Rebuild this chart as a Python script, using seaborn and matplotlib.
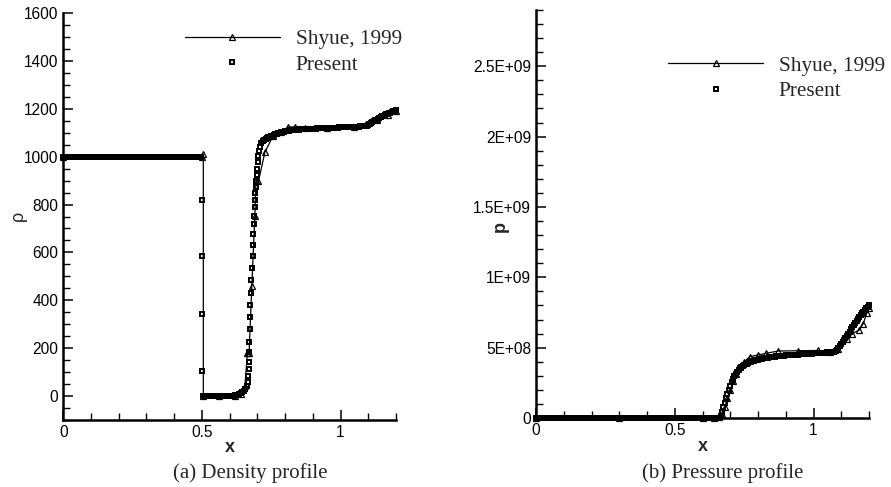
import numpy as np
import pandas as pd
import matplotlib
matplotlib.use("Agg")
import matplotlib.pyplot as plt
import seaborn as sns
from matplotlib.ticker import MultipleLocator, FixedLocator, FixedFormatter

# ---------------- data ----------------
# (a) density, "Present" (square markers)
rho_present_x = [
    0.000, 0.005, 0.010, 0.015, 0.020, 0.025, 0.030, 0.035, 0.040, 0.045,
    0.050, 0.055, 0.060, 0.065, 0.070, 0.075, 0.080, 0.085, 0.090, 0.095,
    0.100, 0.105, 0.110, 0.115, 0.120, 0.125, 0.130, 0.135, 0.140, 0.145,
    0.150, 0.155, 0.160, 0.165, 0.170, 0.175, 0.180, 0.185, 0.190, 0.195,
    0.200, 0.205, 0.210, 0.215, 0.220, 0.225, 0.230, 0.235, 0.240, 0.245,
    0.250, 0.255, 0.260, 0.265, 0.270, 0.275, 0.280, 0.285, 0.290, 0.295,
    0.300, 0.305, 0.310, 0.315, 0.320, 0.325, 0.330, 0.335, 0.340, 0.345,
    0.350, 0.355, 0.360, 0.365, 0.370, 0.375, 0.380, 0.385, 0.390, 0.395,
    0.400, 0.405, 0.410, 0.415, 0.420, 0.425, 0.430, 0.435, 0.440, 0.445,
    0.450, 0.455, 0.460, 0.465, 0.470, 0.475, 0.480, 0.485, 0.490, 0.495,
    0.499, 0.4995, 0.500, 0.5005,
    0.505, 0.510, 0.515, 0.520, 0.525, 0.530, 0.535, 0.540, 0.545, 0.550,
    0.555, 0.560, 0.565, 0.570, 0.575, 0.580, 0.585, 0.590, 0.595, 0.600,
    0.605, 0.610, 0.615, 0.620, 0.625, 0.630, 0.635, 0.640, 0.645, 0.650, 0.655,
    0.661, 0.6645, 0.6667, 0.668, 0.669, 0.6695, 0.670, 0.672, 0.674, 0.675,
    0.676, 0.678, 0.680, 0.6825, 0.685, 0.686, 0.687, 0.689, 0.691, 0.692,
    0.693, 0.694, 0.695, 0.697, 0.699, 0.701, 0.704, 0.707, 0.710, 0.714,
    0.720, 0.725, 0.730, 0.735, 0.740, 0.745, 0.750, 0.755, 0.760, 0.765,
    0.770, 0.775, 0.780, 0.785, 0.790, 0.795, 0.800, 0.805, 0.810, 0.815,
    0.820, 0.825, 0.830, 0.835, 0.840, 0.845, 0.850, 0.855, 0.860, 0.865,
    0.870, 0.875, 0.880, 0.885, 0.890, 0.895, 0.900, 0.905, 0.910, 0.915,
    0.920, 0.925, 0.930, 0.935, 0.940, 0.945, 0.950, 0.955, 0.960, 0.965,
    0.970, 0.975, 0.980, 0.985, 0.990, 0.995, 1.000, 1.005, 1.010, 1.015,
    1.020, 1.025, 1.030, 1.035, 1.040, 1.045, 1.050, 1.055, 1.060, 1.065,
    1.070, 1.075, 1.080, 1.085, 1.090, 1.095, 1.100, 1.105, 1.110, 1.115,
    1.120, 1.125, 1.130, 1.135, 1.140, 1.145, 1.150, 1.155, 1.160, 1.165,
    1.170, 1.175, 1.180, 1.185, 1.190, 1.195, 1.200,
]
rho_present = [
    1000, 1000, 1000, 1000, 1000, 1000, 1000, 1000, 1000, 1000,
    1000, 1000, 1000, 1000, 1000, 1000, 1000, 1000, 1000, 1000,
    1000, 1000, 1000, 1000, 1000, 1000, 1000, 1000, 1000, 1000,
    1000, 1000, 1000, 1000, 1000, 1000, 1000, 1000, 1000, 1000,
    1000, 1000, 1000, 1000, 1000, 1000, 1000, 1000, 1000, 1000,
    1000, 1000, 1000, 1000, 1000, 1000, 1000, 1000, 1000, 1000,
    1000, 1000, 1000, 1000, 1000, 1000, 1000, 1000, 1000, 1000,
    1000, 1000, 1000, 1000, 1000, 1000, 1000, 1000, 1000, 1000,
    1000, 1000, 1000, 1000, 1000, 1000, 1000, 1000, 1000, 1000,
    1000, 1000, 1000, 1000, 1000, 1000, 1000, 1000, 1000, 1000,
    820, 583, 344, 106,
    0, 0, 0, 0, 0, 0, 0, 0, 0, 0,
    0, 0, 0, 0, 0, 0, 0, 0, 0, 0,
    1, 1, 2, 3, 4, 6, 8, 11, 15, 21, 30,
    42, 60, 84, 112, 141, 183, 226, 279, 329, 381,
    432, 483, 534, 583, 632, 678, 720, 754, 788, 817,
    848, 873, 897, 922, 950, 977, 1003, 1025, 1042, 1055,
    1064, 1069, 1073, 1077, 1080, 1083, 1086, 1088, 1090, 1093,
    1095, 1097, 1099, 1101, 1103, 1105, 1106, 1107, 1108, 1109,
    1110, 1111, 1111, 1112, 1112, 1113, 1113, 1114, 1114, 1115,
    1115, 1115, 1116, 1116, 1116, 1117, 1117, 1117, 1117, 1118,
    1118, 1118, 1118, 1119, 1119, 1119, 1119, 1120, 1120, 1120,
    1120, 1121, 1121, 1121, 1121, 1122, 1122, 1122, 1122, 1123,
    1123, 1123, 1123, 1124, 1124, 1124, 1124, 1125, 1125, 1125,
    1126, 1126, 1127, 1127, 1128, 1130, 1133, 1137, 1140, 1144,
    1148, 1151, 1155, 1158, 1162, 1165, 1168, 1171, 1174, 1177,
    1179, 1182, 1184, 1187, 1189, 1191, 1193,
]

# (a) density, "Shyue, 1999" (line with triangles)
rho_shyue_x = [
    0.00, 0.50,
    0.505, 0.505, 0.56, 0.62, 0.64, 0.655,
    0.664, 0.667, 0.670, 0.680, 0.691, 0.695, 0.704, 0.727,
    0.757, 0.785, 0.811, 0.837, 0.87, 0.95, 1.05,
    1.093, 1.13, 1.17, 1.20,
]
rho_shyue = [
    1000, 1000,
    1010, 0, 0, 2, 10, 40,
    180, 180, 180, 460, 753, 904, 898, 1018,
    1088, 1105, 1123, 1125, 1118, 1120, 1124,
    1138, 1155, 1175, 1192,
]

# (b) pressure, "Present" (units of 1E+09)
p_present_x = [
    0.000, 0.005, 0.010, 0.015, 0.020, 0.025, 0.030, 0.035, 0.040, 0.045,
    0.050, 0.055, 0.060, 0.065, 0.070, 0.075, 0.080, 0.085, 0.090, 0.095,
    0.100, 0.105, 0.110, 0.115, 0.120, 0.125, 0.130, 0.135, 0.140, 0.145,
    0.150, 0.155, 0.160, 0.165, 0.170, 0.175, 0.180, 0.185, 0.190, 0.195,
    0.200, 0.205, 0.210, 0.215, 0.220, 0.225, 0.230, 0.235, 0.240, 0.245,
    0.250, 0.255, 0.260, 0.265, 0.270, 0.275, 0.280, 0.285, 0.290, 0.295,
    0.300, 0.305, 0.310, 0.315, 0.320, 0.325, 0.330, 0.335, 0.340, 0.345,
    0.350, 0.355, 0.360, 0.365, 0.370, 0.375, 0.380, 0.385, 0.390, 0.395,
    0.400, 0.405, 0.410, 0.415, 0.420, 0.425, 0.430, 0.435, 0.440, 0.445,
    0.450, 0.455, 0.460, 0.465, 0.470, 0.475, 0.480, 0.485, 0.490, 0.495,
    0.500, 0.505, 0.510, 0.515, 0.520, 0.525, 0.530, 0.535, 0.540, 0.545,
    0.550, 0.555, 0.560, 0.565, 0.570, 0.575, 0.580, 0.585, 0.590, 0.595,
    0.600, 0.605, 0.610, 0.615, 0.620, 0.625, 0.630, 0.635, 0.640, 0.645,
    0.650, 0.655,
    0.660, 0.665, 0.670, 0.675, 0.680, 0.685, 0.690, 0.695, 0.700, 0.705,
    0.710, 0.715, 0.720, 0.725, 0.730, 0.735, 0.740, 0.745, 0.750, 0.755,
    0.760, 0.765, 0.770, 0.775, 0.780, 0.785, 0.790, 0.795, 0.800, 0.805,
    0.810, 0.815, 0.820, 0.825, 0.830, 0.835, 0.840, 0.845, 0.850, 0.855,
    0.860, 0.865, 0.870, 0.875, 0.880, 0.885, 0.890, 0.895, 0.900, 0.905,
    0.910, 0.915, 0.920, 0.925, 0.930, 0.935, 0.940, 0.945, 0.950, 0.955,
    0.960, 0.965, 0.970, 0.975, 0.980, 0.985, 0.990, 0.995, 1.000, 1.005,
    1.010, 1.015, 1.020, 1.025, 1.030, 1.035, 1.040, 1.045, 1.050, 1.055,
    1.060, 1.065, 1.070, 1.075, 1.080, 1.085, 1.090, 1.095, 1.100, 1.105,
    1.110, 1.115, 1.120, 1.125, 1.130, 1.135, 1.140, 1.145, 1.150, 1.155,
    1.160, 1.165, 1.170, 1.175, 1.180, 1.185, 1.190, 1.195, 1.200,
]
p_present_e9 = [
    0, 0, 0, 0, 0, 0, 0, 0, 0, 0, 0, 0,
    0, 0, 0, 0, 0, 0, 0, 0, 0, 0, 0, 0,
    0, 0, 0, 0, 0, 0, 0, 0, 0, 0, 0, 0,
    0, 0, 0, 0, 0, 0, 0, 0, 0, 0, 0, 0,
    0, 0, 0, 0, 0, 0, 0, 0, 0, 0, 0, 0,
    0, 0, 0, 0, 0, 0, 0, 0, 0, 0, 0, 0,
    0, 0, 0, 0, 0, 0, 0, 0, 0, 0, 0, 0,
    0, 0, 0, 0, 0, 0, 0, 0, 0, 0, 0, 0,
    0, 0, 0, 0, 0, 0, 0, 0, 0, 0, 0, 0,
    0, 0, 0, 0, 0, 0, 0, 0, 0, 0, 0, 0,
    0, 0, 0, 0, 0, 0, 0, 0, 0, 0, 0, 0,
    0.000, 0.015, 0.040, 0.075, 0.105, 0.140, 0.170, 0.200, 0.228, 0.255,
    0.278, 0.298, 0.316, 0.330, 0.342, 0.352, 0.361, 0.368, 0.375, 0.381,
    0.386, 0.391, 0.395, 0.399, 0.403, 0.406, 0.409, 0.412, 0.414, 0.417,
    0.419, 0.421, 0.423, 0.425, 0.427, 0.429, 0.431, 0.433, 0.435, 0.436,
    0.437, 0.438, 0.439, 0.440, 0.441, 0.442, 0.443, 0.444, 0.445, 0.446,
    0.447, 0.447, 0.448, 0.449, 0.449, 0.450, 0.451, 0.451, 0.452, 0.453,
    0.453, 0.454, 0.455, 0.455, 0.456, 0.457, 0.457, 0.458, 0.459, 0.459,
    0.460, 0.461, 0.461, 0.462, 0.463, 0.463, 0.464, 0.465, 0.466, 0.467,
    0.468, 0.469, 0.470, 0.472, 0.476, 0.484, 0.496, 0.510, 0.524, 0.539,
    0.553, 0.567, 0.582, 0.598, 0.614, 0.630, 0.645, 0.660, 0.675, 0.690,
    0.704, 0.718, 0.731, 0.744, 0.756, 0.768, 0.779, 0.790, 0.800,
]

# (b) pressure, "Shyue, 1999" (units of 1E+09)
p_shyue_x = [
    0.00, 0.30, 0.60,
    0.64, 0.66, 0.67, 0.68, 0.69, 0.70, 0.71, 0.72, 0.735, 0.75,
    0.771, 0.80, 0.83, 0.873, 0.945, 1.017, 1.06, 1.09, 1.12, 1.14,
    1.165, 1.179, 1.192, 1.20,
]
p_shyue_e9 = [
    0, 0, 0,
    0, 0.005, 0.03, 0.08, 0.14, 0.20, 0.26, 0.31, 0.36, 0.40,
    0.436, 0.448, 0.46, 0.476, 0.478, 0.48, 0.47, 0.49, 0.56, 0.60,
    0.626, 0.67, 0.745, 0.78,
]

legend_labels = ["Shyue, 1999", "Present"]
captions = ["(a) Density profile", "(b) Pressure profile"]
p_tick_values_e9 = [0, 0.5, 1.0, 1.5, 2.0, 2.5]
p_tick_labels = ["0", "5E+08", "1E+09", "1.5E+09", "2E+09", "2.5E+09"]

# ---------------- frames ----------------
rho_p_df = pd.DataFrame({"x": rho_present_x, "rho": rho_present})
rho_s_df = pd.DataFrame({"x": rho_shyue_x, "rho": rho_shyue})
p_p_df = pd.DataFrame({"x": p_present_x, "p": np.array(p_present_e9) * 1e9})
p_s_df = pd.DataFrame({"x": p_shyue_x, "p": np.array(p_shyue_e9) * 1e9})

# ---------------- style ----------------
sns.set_theme(style="ticks")
plt.rcParams["font.family"] = ["Liberation Sans", "DejaVu Sans"]
SERIF = ["Liberation Serif", "DejaVu Serif"]

W, H = 891, 487
fig = plt.figure(figsize=(W / 100, H / 100), dpi=100)
fig.patch.set_facecolor("white")

ax1 = fig.add_axes([63.3 / W, 1 - 420 / H, (396 - 63.3) / W, (420 - 13) / H])
ax2 = fig.add_axes([536 / W, 1 - 418 / H, (869 - 536) / W, (418 - 10) / H])

shyue_kw = dict(color="black", lw=0.9, marker="^", markersize=4.4,
                markerfacecolor="none", markeredgecolor="black",
                markeredgewidth=0.9, sort=False, estimator=None, clip_on=False)
present_kw = dict(color="black", linestyle="none", marker="s", markersize=3.5,
                  markerfacecolor="none", markeredgecolor="black",
                  markeredgewidth=1.4, sort=False, estimator=None, clip_on=False,
                  antialiased=False)

sns.lineplot(data=rho_s_df, x="x", y="rho", ax=ax1, label=legend_labels[0], **shyue_kw)
sns.lineplot(data=rho_p_df, x="x", y="rho", ax=ax1, label=legend_labels[1], **present_kw)
sns.lineplot(data=p_s_df, x="x", y="p", ax=ax2, label=legend_labels[0], **shyue_kw)
sns.lineplot(data=p_p_df, x="x", y="p", ax=ax2, label=legend_labels[1], **present_kw)

for ax in (ax1, ax2):
    ax.set_facecolor("white")
    ax.set_xlim(0, 1.2)
    for side in ("top", "right"):
        ax.spines[side].set_visible(False)
    for side in ("left", "bottom"):
        ax.spines[side].set_linewidth(1.8)
        ax.spines[side].set_color("black")
    ax.xaxis.set_major_locator(FixedLocator([0, 0.5, 1]))
    ax.xaxis.set_major_formatter(FixedFormatter(["0", "0.5", "1"]))
    ax.xaxis.set_minor_locator(MultipleLocator(0.1))
    ax.tick_params(which="major", direction="in", length=7.5, width=1.1,
                   colors="black", labelsize=11.2, pad=3.5)
    ax.tick_params(which="minor", direction="in", length=4.8, width=1.0,
                   colors="black")
    ax.grid(False)

ax1.set_ylim(-100, 1600)
ax1.yaxis.set_major_locator(FixedLocator([0, 200, 400, 600, 800, 1000, 1200, 1400, 1600]))
ax1.yaxis.set_minor_locator(MultipleLocator(50))

ax2.set_ylim(0, 2.9e9)
ax2.yaxis.set_major_locator(FixedLocator([v * 1e9 for v in p_tick_values_e9]))
ax2.yaxis.set_major_formatter(FixedFormatter(p_tick_labels))
ax2.yaxis.set_minor_locator(MultipleLocator(1e8))

# axis labels
ax1.set_xlabel("x", fontsize=13, fontweight="bold")
ax1.set_ylabel("\u03c1", fontsize=13)
ax2.set_xlabel("x", fontsize=13, fontweight="bold")
ax2.set_ylabel("p", fontsize=13, fontweight="bold")
ax1.xaxis.set_label_coords(0.5, -(448 - 420) / 407)
ax2.xaxis.set_label_coords(0.5, -(446.7 - 418) / 408)
ax1.yaxis.set_label_coords((18 - 63.3) / 332.7, (420 - 216) / 407)
ax2.yaxis.set_label_coords((500 - 536) / 333, (418 - 227) / 408)
for lab in (ax1.xaxis.label, ax2.xaxis.label, ax1.yaxis.label, ax2.yaxis.label):
    lab.set_verticalalignment("center")
    lab.set_horizontalalignment("center")

# legends
for ax, (lx, ly) in ((ax1, (185, 29.5)), (ax2, (668.3, 56.0))):
    handles, labels = ax.get_legend_handles_labels()
    ax.legend(handles, labels, loc="upper left",
              bbox_to_anchor=(lx / W, 1 - ly / H), bbox_transform=fig.transFigure,
              frameon=False, borderpad=0, borderaxespad=0,
              handlelength=4.45, handletextpad=0.75, labelspacing=0.25,
              numpoints=1, prop={"family": SERIF, "size": 15.3})

# captions
fig.text(250.5 / W, 1 - 473 / H, captions[0], ha="center", va="center",
         family=SERIF, fontsize=15)
fig.text(723 / W, 1 - 473 / H, captions[1], ha="center", va="center",
         family=SERIF, fontsize=15)

fig.savefig("out.png", dpi=100, facecolor="white")
